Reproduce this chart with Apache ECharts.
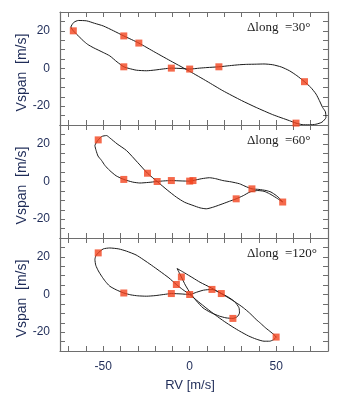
<!DOCTYPE html>
<html>
<head>
<meta charset="utf-8">
<script src="https://cdn.jsdelivr.net/npm/echarts@6/dist/echarts.min.js"></script>
<style>html,body{margin:0;padding:0;background:#fff}#c{width:358px;height:400px}</style>
</head>
<body>
<div id="c"></div>
<script>
// ---- data ----
var xTicks = [-70,-60,-50,-40,-30,-20,-10,0,10,20,30,40,50,60,70];
var xLabels = [-50,0,50];
var yTicks = [-25,-20,-15,-10,-5,0,5,10,15,20,25];
var yLabels = [-20,0,20];
var panelLabels = ['\u0394long  =30\u00b0','\u0394long  =60\u00b0','\u0394long  =120\u00b0'];

var curve1X = [-67.3,-68.7,-67,-64.4,-59.6,-55,-50,-44,-38.1,-29.4,-20,-10,0,10,19.2,30,38.5,48,57.7,61.5,65,69.2,73,76.5,78.8,78.5,76.9,75,73.1,70,66.4,62,57.7,53,48,43,38.5,33,28.8,23,16.9,10,5.8,0,-5,-10.6,-15,-20,-25,-30.8,-35,-38.1,-42,-46.2,-50,-55.8,-59,-61.5,-63.5,-65.4,-67.3];
var curve1Y = [20,22,24.5,25.5,25.3,24,22.6,20,17.3,13.5,8.6,3.5,-1.5,-6.8,-11.8,-17,-20.7,-24.5,-27.7,-29,-29.8,-29.9,-29.6,-28.5,-26,-23,-20.7,-17,-13.6,-10,-7,-3.8,-1.2,0.8,2,2.4,2.3,2.2,2,1.5,0.9,0.5,0.2,-0.3,0,0.2,-0.2,-0.8,-1.2,-0.9,0,0.9,3.5,6.7,8.5,11.1,12.8,14.7,16.5,18.2,20];
var marks1X = [-67.3,-38.1,-29.4,-38.1,-10.6,0,16.9,66.4,61.5];
var marks1Y = [20,17.3,13.5,0.9,0.2,-0.3,0.9,-7,-29];

var curve2X = [-52.9,-50.9,-48.1,-46,-42,-36.5,-30,-24.4,-18.8,-13,-7.7,-3,1.9,6,9.6,14,19.2,23,26.9,31,35,39.4,43,46.2,50,53.8,52,50,47,44.2,40,36,32,28.8,24,19.2,15,11.5,7,1.9,0,-5,-10.6,-15,-18.8,-24,-28.8,-33,-38.1,-42.5,-46.2,-49,-50.9,-53,-54.1,-54.8,-52.9];
var curve2Y = [22.1,23.9,24.4,23,20,16.4,10,4.4,0,-4.5,-8.3,-11,-12.7,-14,-14.5,-13.5,-11.8,-10.5,-9.2,-7.5,-5.5,-4.8,-5.2,-6.5,-8.6,-10.9,-9,-7.4,-5.6,-4.8,-4.2,-3.9,-2.5,-1.2,-0.2,0.5,1.5,2,1.5,0.5,0.2,0.3,0.5,0.3,0,-0.5,-0.8,-0.3,1.1,3,5.8,8.5,11.1,13.5,16.4,19.1,22.1];
var marks2X = [-52.9,-38.1,-24.4,-18.8,-10.6,0,1.9,26.9,36,53.8];
var marks2Y = [22.1,1.1,4.4,0,0.5,0.2,0.5,-9.2,-3.9,-10.9];

var curve3X = [-52.9,-50,-46.2,-41,-36.5,-31,-26.9,-22,-17.3,-12,-7.7,-4,0,5,10,15,20,25,29,34,38.5,43,46.2,48.5,50,47,44,41,38.5,34.6,31,27,22.5,18.3,12.5,6,1.9,-3,-7.3,-6,-4.8,-2.5,0.5,4,7.7,12,17.3,21,25,27.5,28.8,28.5,26,22,18.3,12.9,8,4,0,-5,-10.6,-15,-20,-25,-30,-34,-38.1,-42.5,-46.2,-48.8,-50.9,-52.8,-54.3,-54.8,-54.3,-52.9];
var curve3Y = [22.1,24.2,24.7,24.2,23,21,18.6,15.5,12.4,8.8,5.3,2.6,0,-3.8,-7.5,-11,-14.3,-17.3,-19.5,-22,-23.7,-24.8,-24.8,-24,-22.6,-20,-17.8,-15.3,-13.3,-9.8,-7,-4.4,-1.8,0.5,3.5,6.5,8.8,11.5,13.8,11.5,9.3,5,0.5,-3.5,-7.1,-9.5,-11.5,-12.4,-12.7,-11.8,-9.8,-7,-3.8,-1.2,0.5,2.7,2.3,1.2,0,0.3,0.5,0,-0.6,-0.9,-0.7,-0.2,0.8,2.5,4.4,7,9.7,12.5,15.5,18.6,20.5,22.1];
var marks3X = [-52.9,-38.1,-10.6,0,-7.7,-4.8,12.9,18.3,25,50];
var marks3Y = [22.1,0.8,0.5,0,5.3,9.3,2.7,0.5,-12.7,-22.6];

var curvesX = [curve1X, curve2X, curve3X];
var curvesY = [curve1Y, curve2Y, curve3Y];
var marksX = [marks1X, marks2X, marks3X];
var marksY = [marks1Y, marks2Y, marks3Y];

function zip(a, b) { return a.map(function (v, i) { return [v, b[i]]; }); }

// ---- layout ----
var gridTops = [12, 125, 238];
var gridH = 113;
var frameColor = '#6e6e6e';
var textColor = '#1f2c58';
var font = 'Liberation Sans, Arial, Helvetica, sans-serif';

var grids = [], xAxes = [], yAxes = [], series = [], graphics = [];
gridTops.forEach(function (top, i) {
  grids.push({ left: 60, top: top, width: 268, height: gridH });
  ['bottom', 'top'].forEach(function (pos) {
    xAxes.push({
      type: 'value', gridIndex: i, position: pos, min: -75, max: 80,
      axisLine: { show: true, onZero: false, lineStyle: { color: frameColor, width: 1.2 } },
      axisTick: { show: true, inside: true, length: 5, customValues: xTicks, lineStyle: { color: frameColor } },
      axisLabel: { show: (pos === 'bottom' && i === 2), customValues: xLabels, color: textColor, fontSize: 12, fontFamily: font, margin: 10 },
      splitLine: { show: false }
    });
  });
  ['left', 'right'].forEach(function (pos) {
    yAxes.push({
      type: 'value', gridIndex: i, position: pos, min: -30, max: 30,
      axisLine: { show: true, onZero: false, lineStyle: { color: frameColor, width: 1.2 } },
      axisTick: { show: true, inside: true, length: 5, customValues: yTicks, lineStyle: { color: frameColor } },
      axisLabel: { show: pos === 'left', customValues: yLabels, color: textColor, fontSize: 12, fontFamily: font, margin: 10 },
      splitLine: { show: false }
    });
  });
  series.push({
    type: 'line', xAxisIndex: 2 * i, yAxisIndex: 2 * i,
    data: zip(curvesX[i], curvesY[i]), showSymbol: false, smooth: 0.2,
    lineStyle: { color: '#1a1a1a', width: 1 }, silent: true, z: 2
  });
  series.push({
    type: 'scatter', xAxisIndex: 2 * i, yAxisIndex: 2 * i,
    data: zip(marksX[i], marksY[i]), symbol: 'rect', symbolSize: 7,
    itemStyle: { color: '#f2431e' }, z: 3
  });
  graphics.push({
    type: 'text', left: 247, top: top + 9,
    style: { text: panelLabels[i], fill: '#222', font: '13px "Liberation Serif", "Times New Roman", serif' }
  });
  graphics.push({
    type: 'text', x: 22, y: top + gridH / 2 + 4, rotation: Math.PI / 2,
    style: { text: 'Vspan  [m/s]', fill: textColor, font: '14px ' + font, textAlign: 'center', textVerticalAlign: 'middle' }
  });
});
graphics.push({
  type: 'text', x: 190, y: 385,
  style: { text: 'RV [m/s]', fill: textColor, font: '13px ' + font, textAlign: 'center', textVerticalAlign: 'middle' }
});

var chart = echarts.init(document.getElementById('c'), null, { renderer: 'canvas' });
chart.setOption({
  animation: false,
  grid: grids, xAxis: xAxes, yAxis: yAxes, series: series, graphic: graphics
});
</script>
</body>
</html>
